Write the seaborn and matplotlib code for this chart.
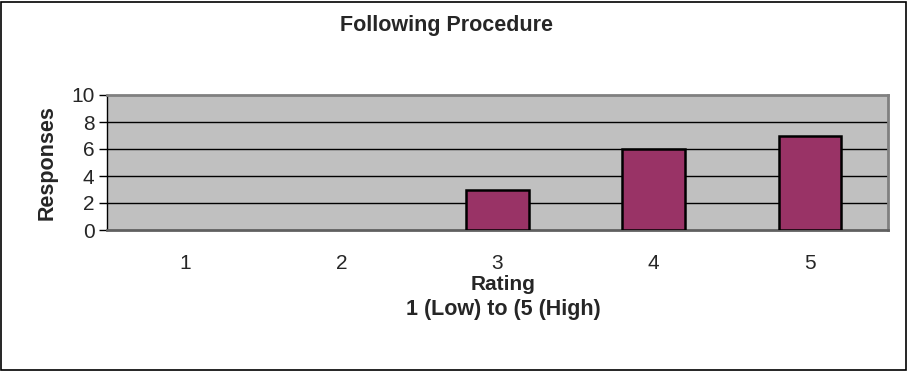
import matplotlib
matplotlib.use("Agg")
import matplotlib.pyplot as plt
import seaborn as sns
import pandas as pd
from matplotlib.patches import Rectangle

ratings = ["1", "2", "3", "4", "5"]
responses = [0, 0, 3, 6, 7]
yticks = [0, 2, 4, 6, 8, 10]

sns.set_style("white")
plt.rcParams["font.family"] = ["Liberation Sans", "DejaVu Sans"]

df = pd.DataFrame({"Rating": ratings, "Responses": responses})

fig = plt.figure(figsize=(9.08, 3.72), dpi=100)
ax = fig.add_axes([107 / 908, 1 - 230 / 372, 781 / 908, 135 / 372])
ax.set_facecolor("#C0C0C0")

sns.barplot(data=df, x="Rating", y="Responses", color="#993366", width=0.4,
            edgecolor="black", linewidth=1.8, saturation=1, ax=ax, zorder=3)
# empty categories get no outline
for patch in ax.patches:
    if patch.get_height() == 0:
        patch.set_linewidth(0)

ax.set_ylim(0, 10)
ax.set_xlim(-0.5, 4.5)
ax.set_yticks(yticks)
ax.set_yticklabels([str(v) for v in yticks], fontsize=15)
for v in yticks[1:-1]:
    ax.axhline(v, color="black", linewidth=1.0, zorder=1)

# category ticks sit between groups
ax.set_xticks(range(len(ratings)))
ax.set_xticklabels(ratings, fontsize=15)
ax.tick_params(axis="x", length=0, pad=17)
ax.set_xticks([i - 0.5 for i in range(len(ratings) + 1)], minor=True)
ax.tick_params(axis="x", which="minor", length=6, width=1, color="black", direction="out")
ax.tick_params(axis="y", length=6, width=1, color="black", direction="out", pad=3, left=True)

for side in ["top", "right"]:
    ax.spines[side].set_visible(True)
    ax.spines[side].set_color("#808080")
    ax.spines[side].set_linewidth(2)
ax.spines["bottom"].set_color("#606060")
ax.spines["bottom"].set_linewidth(2)
ax.spines["left"].set_color("black")
ax.spines["left"].set_linewidth(1)

ax.set_xlabel("")
ax.set_ylabel("Responses", fontsize=15.5, fontweight="bold", labelpad=10)

fig.text(447 / 908, 1 - 25 / 372, "Following Procedure", ha="center", va="center",
         fontsize=15.5, fontweight="bold")
fig.text(503 / 908, 1 - 284 / 372, "Rating", ha="center", va="center",
         fontsize=15, fontweight="bold")
fig.text(503 / 908, 1 - 309 / 372, "1 (Low) to (5 (High)", ha="center", va="center",
         fontsize=15.5, fontweight="bold")

fig.patches.append(Rectangle((1 / 908, 2 / 372), 905 / 908, 368 / 372,
                             transform=fig.transFigure, fill=False,
                             edgecolor="black", linewidth=1.2))

fig.savefig("out.png", dpi=100)
